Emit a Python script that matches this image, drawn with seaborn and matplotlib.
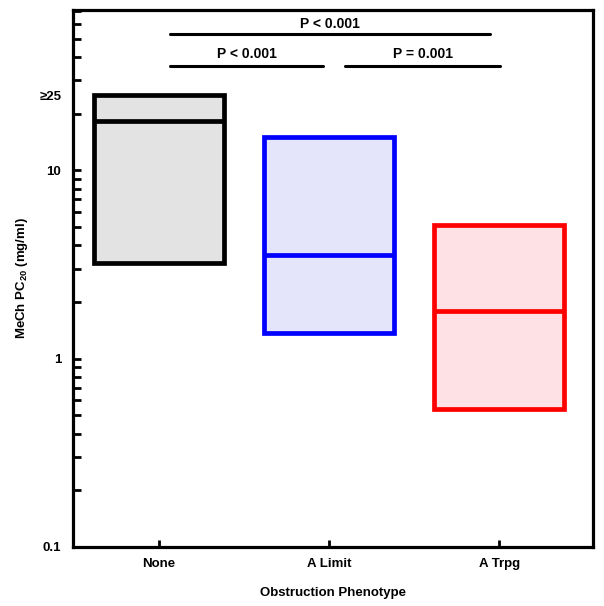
import matplotlib
matplotlib.use("Agg")
import matplotlib.pyplot as plt
from matplotlib.ticker import LogLocator, NullFormatter
import numpy as np
import seaborn as sns

# values (MeCh PC20, mg/ml)
groups = ["None", "A Limit", "A Trpg"]
low = [3.2, 1.36, 0.54]
median = [18.2, 3.53, 1.78]
high = [25.0, 15.0, 5.1]
edge_colors = ["#000000", "#0000ff", "#ff0000"]
fill_colors = ["#e3e3e3", "#e4e4fa", "#fde1e4"]

y_ticks = [0.1, 1, 10, 25]
y_tick_labels = ["0.1", "1", "10", "\u226525"]

# (group a, group b, label, level)
comparisons = [(0, 2, "P < 0.001", 2), (0, 1, "P < 0.001", 1), (1, 2, "P = 0.001", 1)]

sns.set_style("ticks", {"axes.edgecolor": "black", "text.color": "black",
                        "axes.labelcolor": "black", "xtick.color": "black",
                        "ytick.color": "black"})
plt.rcParams["font.family"] = ["Liberation Sans", "DejaVu Sans"]
plt.rcParams["font.weight"] = "bold"
plt.rcParams["mathtext.fontset"] = "custom"
plt.rcParams["mathtext.rm"] = "Liberation Sans:bold"

fig = plt.figure(figsize=(6.04, 6.06), dpi=100)
ax = fig.add_axes([0.121, 0.0975, 0.8605, 0.886])

x = np.arange(len(groups))
w = 0.765
ax.bar(x, np.array(high) - np.array(low), bottom=low, width=w,
       color=fill_colors, edgecolor=edge_colors, linewidth=3.4, zorder=2)
for xi, m, c in zip(x, median, edge_colors):
    ax.hlines(m, xi - w / 2, xi + w / 2, colors=c, linewidth=3.4, zorder=3)

ax.set_yscale("log")
ax.set_ylim(0.1, 71)
ax.set_xlim(-0.506, 2.551)

ax.set_yticks(y_ticks)
ax.set_yticklabels(y_tick_labels)
ax.yaxis.set_minor_locator(LogLocator(base=10, subs=np.arange(2, 10)))
ax.yaxis.set_minor_formatter(NullFormatter())
ax.yaxis.get_major_ticks()[3].tick1line.set_visible(False)

ax.set_xticks(x)
ax.set_xticklabels(groups)

for s in ax.spines.values():
    s.set_linewidth(2.3)
    s.set_color("black")
    s.set_visible(True)
ax.tick_params(axis="both", which="both", direction="in", width=2.0,
               labelsize=9.5, colors="black")
ax.tick_params(axis="y", which="both", length=6, pad=8.5)
ax.tick_params(axis="x", length=5, pad=8)

ax.set_xlabel("Obstruction Phenotype", fontsize=9.5, fontweight="bold",
              labelpad=12, color="black")
ax.set_ylabel(r"MeCh PC$_{\mathregular{20}}$ (mg/ml)", fontsize=9.5,
              fontweight="bold", labelpad=7, color="black")

# significance brackets
bar_y = {1: 35.7, 2: 52.9}
text_y = {1: 41.5, 2: 60.0}
for a, b, label, lvl in comparisons:
    x0 = a + (0.065 if a == 0 else 0.094)
    x1 = b - (0.035 if b == 1 else (-0.006 if lvl == 1 else 0.053))
    ax.plot([x0, x1], [bar_y[lvl], bar_y[lvl]], color="black", linewidth=2.2,
            solid_capstyle="round", clip_on=False)
    ax.text((x0 + x1) / 2, text_y[lvl], label, ha="center", va="center",
            fontsize=10, fontweight="bold", color="black")

fig.savefig("out.png", dpi=100)
